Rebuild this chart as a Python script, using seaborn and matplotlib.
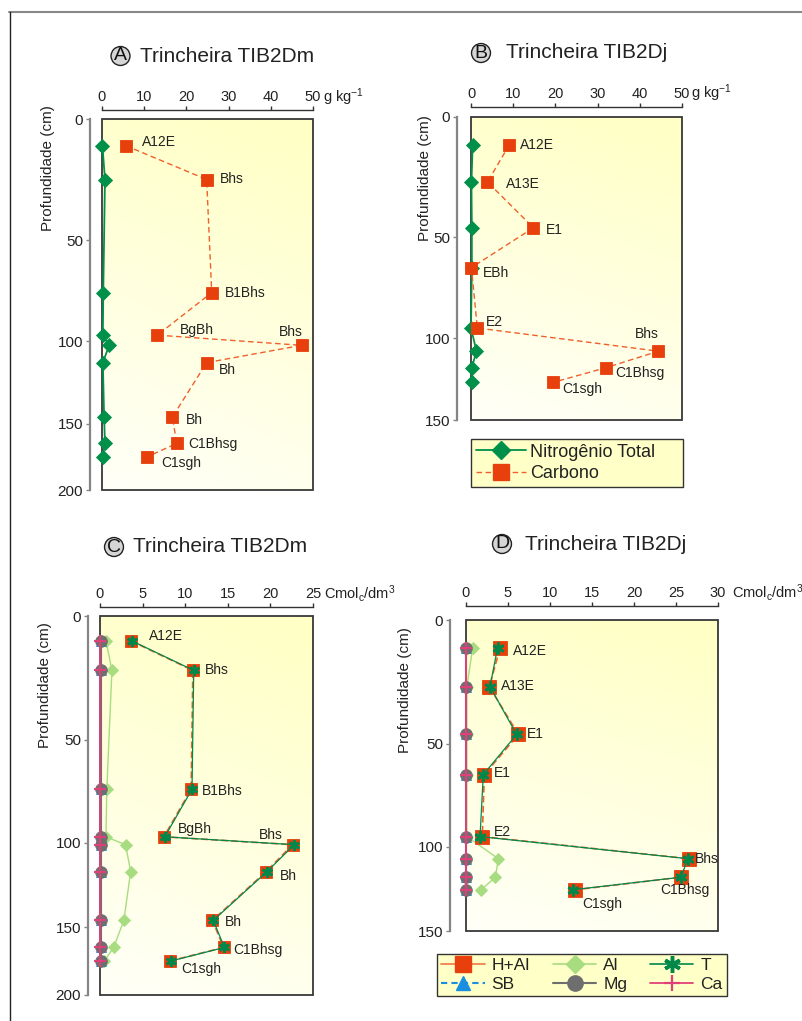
import numpy as np
import matplotlib
matplotlib.use("Agg")
import matplotlib.pyplot as plt
from matplotlib.lines import Line2D
from matplotlib.patches import Rectangle
from matplotlib.colors import LinearSegmentedColormap
import seaborn as sns

sns.set_style("white")
plt.rcParams["font.family"] = ["Liberation Sans", "DejaVu Sans"]
plt.rcParams["mathtext.fontset"] = "custom"
plt.rcParams["mathtext.rm"] = "Liberation Sans"
plt.rcParams["mathtext.it"] = "Liberation Sans:italic"

# ---------------- data ----------------
# Trincheira TIB2Dm - carbono e nitrogenio (g kg-1)
depth_a = [11, 25, 76, 97, 102.5, 113, 146, 165, 175]
horiz_a = ["A12E", "Bhs", "B1Bhs", "BgBh", "Bhs", "Bh", "Bh", "C1Bhsg", "C1sgh"]
carbon_a = [5.6, 24.8, 26.0, 13.1, 47.3, 24.8, 16.7, 17.7, 10.7]
nitro_a = [0.1, 0.7, 0.3, 0.2, 1.7, 0.2, 0.5, 0.7, 0.2]

# Trincheira TIB2Dj - carbono e nitrogenio (g kg-1)
depth_b = [11.5, 27, 46, 65, 95, 108, 118, 127]
horiz_b = ["A12E", "A13E", "E1", "EBh", "E2", "Bhs", "C1Bhsg", "C1sgh"]
carbon_b = [9.1, 3.9, 14.8, 0.1, 1.5, 44.4, 32.1, 19.5]
nitro_b = [0.4, 0.1, 0.2, 0.2, 0.0, 1.3, 0.2, 0.2]

# Trincheira TIB2Dm - complexo sortivo (cmolc/dm3)
depth_c = [10, 22, 74, 97, 101, 117, 146, 165, 175]
horiz_c = ["A12E", "Bhs", "B1Bhs", "BgBh", "Bhs", "Bh", "Bh", "C1Bhsg", "C1sgh"]
hal_c = [3.6, 10.9, 10.7, 7.5, 22.6, 19.5, 13.2, 14.5, 8.2]
t_c = [3.7, 11.0, 10.8, 7.6, 22.8, 19.6, 13.3, 14.6, 8.3]
al_c = [0.7, 1.4, 0.8, 0.7, 3.0, 3.6, 2.8, 1.6, 0.5]
sb_c = [0.1, 0.1, 0.1, 0.1, 0.1, 0.1, 0.1, 0.1, 0.1]
mg_c = [0.1, 0.1, 0.1, 0.1, 0.1, 0.1, 0.1, 0.1, 0.1]
ca_c = [0.0, 0.0, 0.0, 0.0, 0.0, 0.0, 0.0, 0.0, 0.0]

# Trincheira TIB2Dj - complexo sortivo (cmolc/dm3)
depth_d = [11.3, 27, 46.3, 65, 95, 107, 118, 125.5]
horiz_d = ["A12E", "A13E", "E1", "E1", "E2", "Bhs", "C1Bhsg", "C1sgh"]
hal_d = [4.05, 2.78, 6.23, 2.18, 1.94, 26.5, 25.6, 13.0]
t_d = [3.75, 2.86, 6.03, 2.06, 1.67, 26.4, 25.6, 12.7]
al_d = [0.8, 0.1, 0.1, 0.1, 0.1, 3.85, 3.5, 1.8]
sb_d = [0.0, 0.0, 0.0, 0.0, 0.0, 0.0, 0.0, 0.0]
mg_d = [0.05, 0.05, 0.05, 0.05, 0.05, 0.05, 0.05, 0.05]
ca_d = [0.0, 0.0, 0.0, 0.0, 0.0, 0.0, 0.0, 0.0]

depth_ticks = [0, 50, 100, 150, 200]

# ---------------- style ----------------
W, H = 802, 1021
C_N = "#00904a"
C_C_LINE = "#f0602a"
C_SQ = "#e8400c"
C_AL = "#a8dc80"
C_T = "#00884a"
C_SB = "#1a8fe0"
C_MG = "#6e6e6e"
C_CA = "#e0407a"
TXT = "#222222"

# depth axis is stretched near the surface
_d_anchor = [-1000, 0, 50, 100, 150, 200, 1000]
_p_anchor = [-2440, 0, 122, 224, 307, 374, 1446]


def depth_fwd(d):
    return np.interp(d, _d_anchor, _p_anchor)


def depth_inv(p):
    return np.interp(p, _p_anchor, _d_anchor)


bg_cmap = LinearSegmentedColormap.from_list("bg", ["#fffff8", "#ffffc6"])
yy, xx = np.mgrid[0:1:200j, 0:1:200j]
bg_grad = np.clip(0.85 * (1 - yy) + 0.2 * xx, 0, 1)

fig = plt.figure(figsize=(W / 100, H / 100), dpi=100)


def rect(l, t, r, b):
    return [l / W, 1 - b / H, (r - l) / W, (b - t) / H]


def make_panel(box):
    bg = fig.add_axes(rect(*box), zorder=0)
    bg.imshow(bg_grad, cmap=bg_cmap, vmin=0, vmax=1, aspect="auto",
              extent=(0, 1, 0, 1), origin="upper")
    bg.set_axis_off()
    ax = fig.add_axes(rect(*box), zorder=1)
    ax.patch.set_alpha(0)
    ax.set_yscale("function", functions=(depth_fwd, depth_inv))
    return ax


def finish_panel(ax, xmax, xstep, ymax, left_off, top_off, ticks):
    ax.set_xlim(0, xmax)
    ax.set_ylim(ymax, 0)
    ax.set_xticks(np.arange(0, xmax + 0.1, xstep))
    ax.set_yticks(ticks)
    ax.set_yticklabels([str(t) for t in ticks])
    ax.xaxis.tick_top()
    ax.xaxis.set_label_position("top")
    for s in ("right", "bottom"):
        ax.spines[s].set_visible(False)
    ax.spines["left"].set_position(("outward", left_off * 0.72))
    ax.spines["left"].set_bounds(0, ymax)
    ax.spines["left"].set_color("#858585")
    ax.spines["left"].set_linewidth(1.6)
    ax.spines["top"].set_position(("outward", top_off * 0.72))
    ax.spines["top"].set_color("#333333")
    ax.spines["top"].set_linewidth(1.0)
    ax.tick_params(axis="x", direction="out", length=3, width=1, color="#333333",
                   labelsize=10.5, labelcolor=TXT, pad=1.5, top=True, bottom=False)
    ax.tick_params(axis="y", direction="out", length=3, width=1, color="#858585",
                   labelsize=11, labelcolor=TXT, pad=2, left=True)
    ax.yaxis.set_minor_locator(matplotlib.ticker.NullLocator())
    ax.set_xlabel("")
    ax.set_ylabel("")
    ax.add_patch(Rectangle((0, 0), 1, 1, transform=ax.transAxes, fill=False,
                           edgecolor="#383838", linewidth=1.3, zorder=1.5,
                           clip_on=False))


def profile(ax, x, y, color, marker, ms, ls="-", lw=1.0, mfc=None, mec=None,
            mew=0.6, z=3):
    sns.lineplot(x=x, y=y, sort=False, estimator=None, ax=ax, color=color,
                 marker=marker, markersize=ms, linestyle=ls, linewidth=lw,
                 markerfacecolor=mfc if mfc is not None else color,
                 markeredgecolor=mec if mec is not None else color,
                 markeredgewidth=mew, clip_on=False, zorder=z, legend=False)


def labels(ax, x, y, names, offsets):
    for xi, yi, name, (dx, dy) in zip(x, y, names, offsets):
        ax.annotate(name, (xi, yi), xytext=(dx * 0.72, -dy * 0.72),
                    textcoords="offset points", ha="left", va="center",
                    fontsize=10, color=TXT, zorder=6)


def title(cx, cy, letter, tx, text):
    fig.text(cx / W, 1 - cy / H, letter, ha="center", va="center", fontsize=14,
             color="#111111",
             bbox=dict(boxstyle="circle,pad=0.05", fc="#d6d6d6", ec="#222222", lw=1.0))
    fig.text(tx / W, 1 - cy / H, text, ha="left", va="center", fontsize=15,
             color="#222222")


def ylabel(x, y, text):
    fig.text(x / W, 1 - y / H, text, rotation=90, ha="center", va="center",
             fontsize=11, color=TXT)


# ---------------- panel A ----------------
axA = make_panel((102, 119, 313, 490))
profile(axA, nitro_a, depth_a, C_N, "D", 7.5, lw=1.3, z=3)
profile(axA, carbon_a, depth_a, C_C_LINE, "s", 9, ls=(0, (4, 2.5)), lw=1.0,
        mfc=C_SQ, mec=C_SQ, z=4)
finish_panel(axA, 50, 10, 200, 12, 9, depth_ticks)
labels(axA, carbon_a, depth_a, horiz_a,
       [(16, -4), (13, -1), (13, 0), (23, -5), (-23, -13), (12, 7), (13, 3), (12, 1), (14, 6)])
axA.annotate("g kg$^{-1}$", (1, 1), xycoords="axes fraction",
             xytext=(10 * 0.72, 22 * 0.72), textcoords="offset points",
             ha="left", va="center", fontsize=10.5, color=TXT)
title(120.5, 56, "A", 140, "Trincheira TIB2Dm")
ylabel(48, 168, "Profundidade (cm)")

# ---------------- panel B ----------------
axB = make_panel((471, 117, 682, 420))
profile(axB, nitro_b, depth_b, C_N, "D", 7.5, lw=1.3, z=3)
profile(axB, carbon_b, depth_b, C_C_LINE, "s", 9, ls=(0, (4, 2.5)), lw=1.0,
        mfc=C_SQ, mec=C_SQ, z=4)
finish_panel(axB, 50, 10, 150, 14, 10, depth_ticks[:4])
labels(axB, carbon_b, depth_b, horiz_b,
       [(11, 0), (19, 2), (12, 2), (11, 5), (9, -6), (-23, -17), (9, 5), (9, 7)])
axB.annotate("g kg$^{-1}$", (1, 1), xycoords="axes fraction",
             xytext=(9 * 0.72, 24 * 0.72), textcoords="offset points",
             ha="left", va="center", fontsize=10.5, color=TXT)
title(481, 53, "B", 506, "Trincheira TIB2Dj")
ylabel(425, 178, "Profundidade (cm)")

legB = [
    Line2D([], [], color=C_N, lw=1.3, marker="D", ms=9, mfc=C_N, mec=C_N,
           label="Nitrogênio Total"),
    Line2D([], [], color=C_C_LINE, lw=1.0, ls=(0, (4, 2.5)), marker="s", ms=11,
           mfc=C_SQ, mec=C_SQ, label="Carbono"),
]
fig.legend(handles=legB, loc="upper left",
           bbox_to_anchor=(471 / W, 1 - 492 / H, 212 / W, 53 / H), mode="expand",
           borderaxespad=0, fontsize=13, frameon=True, fancybox=False,
           edgecolor="#333333", facecolor="#ffffc8", framealpha=1,
           handlelength=2.8, handletextpad=0.2, labelspacing=0.25,
           borderpad=0.25, labelcolor=TXT)

# ---------------- panel C ----------------
axC = make_panel((100, 616, 313, 995))
profile(axC, al_c, depth_c, C_AL, "D", 6, lw=1.0, z=2.5)
profile(axC, sb_c, depth_c, C_SB, "^", 7, ls=(0, (4, 2)), lw=1.2, z=2.6)
profile(axC, mg_c, depth_c, C_MG, "o", 8.4, lw=1.5, z=2.7)
profile(axC, ca_c, depth_c, C_CA, "+", 8, lw=1.3, mew=1.5, z=2.8)
profile(axC, hal_c, depth_c, C_C_LINE, "s", 9, ls=(0, (4, 2)), lw=1.2,
        mfc=C_SQ, mec=C_SQ, z=3)
profile(axC, t_c, depth_c, C_T, (6, 2, 0), 8, lw=0.9, mew=2.0, z=4)
finish_panel(axC, 25, 5, 200, 12, 9, depth_ticks)
labels(axC, hal_c, depth_c, horiz_c,
       [(18, -5), (12, 0), (11, 2), (14, -8), (-34, -10), (14, 4), (12, 2), (10, 3), (11, 8)])
axC.annotate(r"Cmol$_{\mathrm{c}}$/dm$^{3}$", (1, 1), xycoords="axes fraction",
             xytext=(11 * 0.72, 23 * 0.72), textcoords="offset points",
             ha="left", va="center", fontsize=10.5, color=TXT)
title(114, 547, "C", 133, "Trincheira TIB2Dm")
ylabel(45, 685, "Profundidade (cm)")

# ---------------- panel D ----------------
axD = make_panel((466, 620, 718, 931))
profile(axD, al_d, depth_d, C_AL, "D", 6, lw=1.0, z=2.5)
profile(axD, sb_d, depth_d, C_SB, "^", 7, ls=(0, (4, 2)), lw=1.2, z=2.6)
profile(axD, mg_d, depth_d, C_MG, "o", 8.4, lw=1.5, z=2.7)
profile(axD, ca_d, depth_d, C_CA, "+", 8, lw=1.3, mew=1.5, z=2.8)
profile(axD, hal_d, depth_d, C_C_LINE, "s", 10, ls=(0, (4, 2)), lw=1.2,
        mfc=C_SQ, mec=C_SQ, z=3)
profile(axD, t_d, depth_d, C_T, (6, 2, 0), 8.5, lw=0.9, mew=2.0, z=4)
finish_panel(axD, 30, 5, 150, 16, 14, depth_ticks[:4])
labels(axD, hal_d, depth_d, horiz_d,
       [(13, 3), (12, -1), (9, 0), (10, -2), (12, -5), (6, 0), (-21, 13), (7, 14)])
axD.annotate(r"Cmol$_{\mathrm{c}}$/dm$^{3}$", (1, 1), xycoords="axes fraction",
             xytext=(14 * 0.72, 28 * 0.72), textcoords="offset points",
             ha="left", va="center", fontsize=10.5, color=TXT)
title(502, 544, "D", 525, "Trincheira TIB2Dj")
ylabel(405, 690, "Profundidade (cm)")

legD = [
    Line2D([], [], color="#f08050", lw=1.3, marker="s", ms=11, mfc=C_SQ, mec=C_SQ,
           label="H+Al"),
    Line2D([], [], color=C_SB, lw=1.5, ls=(0, (3, 2)), marker="^", ms=10,
           mfc=C_SB, mec=C_SB, label="SB"),
    Line2D([], [], color=C_AL, lw=1.2, marker="D", ms=9, mfc=C_AL, mec=C_AL,
           label="Al"),
    Line2D([], [], color=C_MG, lw=1.5, marker="o", ms=11, mfc=C_MG, mec=C_MG,
           label="Mg"),
    Line2D([], [], color=C_T, lw=1.2, marker=(6, 2, 0), ms=12, mew=2.5, mec=C_T,
           label="T"),
    Line2D([], [], color=C_CA, lw=1.3, marker="+", ms=12, mew=1.6, mec=C_CA,
           label="Ca"),
]
fig.legend(handles=legD, loc="upper left", ncol=3,
           bbox_to_anchor=(437 / W, 1 - 1007 / H, 290 / W, 53 / H), mode="expand",
           borderaxespad=0, fontsize=12.5, frameon=True, fancybox=False,
           edgecolor="#333333", facecolor="#ffffc8", framealpha=1,
           handlelength=2.5, handletextpad=0.4, labelspacing=0.2,
           columnspacing=0.6, borderpad=0.25, labelcolor=TXT)

# page frame
fig.add_artist(Line2D([9 / W, 1], [1 - 12 / H, 1 - 12 / H], color="#888888",
                      lw=1.5, transform=fig.transFigure))
fig.add_artist(Line2D([9.5 / W, 9.5 / W], [1 - 12 / H, 0], color="#222222",
                      lw=1.0, transform=fig.transFigure))

fig.savefig("out.png", dpi=100)
